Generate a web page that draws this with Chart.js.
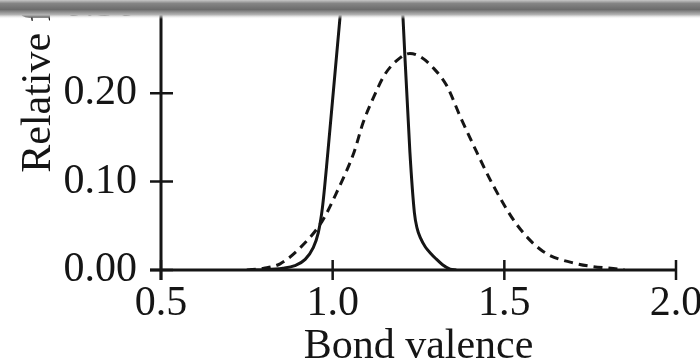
<!DOCTYPE html>
<html><head><meta charset="utf-8">
<script src="https://cdn.jsdelivr.net/npm/chart.js@4"></script>
<style>
html,body{margin:0;padding:0;width:700px;height:363px;overflow:hidden;background:#fff}
#wrap{position:absolute;left:0;top:-292px;width:740px;height:664px}
</style></head><body><div id="wrap"><canvas id="c"></canvas></div>
<script>
// Solid (narrow) distribution
const solidX = [0.76, 0.80, 0.855, 0.89, 0.92, 0.943, 0.958, 0.970, 0.986, 1.021, 1.06, 1.10, 1.14, 1.17, 1.19, 1.205, 1.225, 1.238, 1.246, 1.256, 1.270, 1.285, 1.300, 1.320, 1.342, 1.36];
const solidY = [0.000, 0.0003, 0.002, 0.005, 0.012, 0.025, 0.042, 0.070, 0.133, 0.284, 0.44, 0.53, 0.55, 0.50, 0.40, 0.284, 0.133, 0.065, 0.047, 0.036, 0.026, 0.019, 0.013, 0.006, 0.001, 0.000];
// Dashed (broad) distribution
const dashX = [0.75, 0.80, 0.847, 0.905, 0.969, 1.012, 1.062, 1.089, 1.12, 1.15, 1.19, 1.225, 1.26, 1.292, 1.333, 1.371, 1.420, 1.467, 1.537, 1.613, 1.712, 1.83, 1.85];
const dashY = [0.000, 0.002, 0.007, 0.025, 0.055, 0.088, 0.133, 0.167, 0.196, 0.220, 0.238, 0.245, 0.240, 0.229, 0.208, 0.174, 0.133, 0.096, 0.051, 0.021, 0.007, 0.001, 0.000];
const xTicks = [0.5, 1.0, 1.5, 2.0];
const yTicks = [0.00, 0.10, 0.20, 0.30];
const xTitle = 'Bond valence';
const yTitle = 'Relative frequency';

const toPts = (xs, ys) => xs.map((x, i) => ({x, y: ys[i]}));
const FONT = {family: "'Liberation Serif','Times New Roman',serif", size: 42, lineHeight: 1.2};
const INK = '#151515';

const axesPlugin = {
  id: 'axesPlugin',
  afterDraw(chart) {
    const {ctx, chartArea: a, scales: {x, y}} = chart;
    const y0 = y.getPixelForValue(0), x0 = x.getPixelForValue(xTicks[0]);
    ctx.save();
    ctx.strokeStyle = INK; ctx.lineCap = 'butt';
    ctx.lineWidth = 3;
    ctx.beginPath();
    ctx.moveTo(x0, a.top); ctx.lineTo(x0, y0 + 10);
    ctx.moveTo(x0 - 11, y0); ctx.lineTo(x.getPixelForValue(xTicks[xTicks.length - 1]), y0);
    ctx.stroke();
    ctx.lineWidth = 2.5;
    ctx.beginPath();
    xTicks.forEach(v => { const p = x.getPixelForValue(v); ctx.moveTo(p, y0 - 10); ctx.lineTo(p, y0 + 10); });
    yTicks.forEach(v => { const p = y.getPixelForValue(v); ctx.moveTo(x0 - 11, p); ctx.lineTo(x0 + 12, p); });
    ctx.stroke();
    // torn scan edge at top of the visible picture
    const top = 292;
    const g = ctx.createLinearGradient(0, top, 0, top + 19);
    g.addColorStop(0, '#c8c8c8');
    g.addColorStop(0.18, '#858585');
    g.addColorStop(0.5, '#6c6c6c');
    g.addColorStop(0.78, '#b5b5b5');
    g.addColorStop(1, 'rgba(255,255,255,0)');
    ctx.fillStyle = g;
    ctx.fillRect(0, top, chart.width, 19);
    ctx.restore();
  }
};

new Chart(document.getElementById('c'), {
  type: 'line',
  data: {
    datasets: [
      {data: toPts(solidX, solidY), borderColor: INK, borderWidth: 3, pointRadius: 0, cubicInterpolationMode: 'monotone', fill: false},
      {data: toPts(dashX, dashY), borderColor: INK, borderWidth: 3, borderDash: [9, 6], pointRadius: 0, cubicInterpolationMode: 'monotone', fill: false}
    ]
  },
  options: {
    responsive: true, maintainAspectRatio: false, animation: false,
    layout: {padding: {top: 40, right: 64, bottom: 0, left: 0}},
    plugins: {legend: {display: false}, tooltip: {enabled: false}},
    scales: {
      x: {
        type: 'linear', min: 0.5, max: 2.0,
        afterBuildTicks: s => { s.ticks = xTicks.map(v => ({value: v})); },
        afterFit: s => { s.height = 102; },
        grid: {display: false, drawTicks: false, tickLength: 0},
        border: {display: false},
        ticks: {color: INK, font: FONT, padding: 9, maxRotation: 0, callback: v => v.toFixed(1)},
        title: {display: true, text: xTitle, color: INK, font: FONT, padding: {top: 0, bottom: 0}}
      },
      y: {
        type: 'linear', min: 0, max: 0.58,
        afterBuildTicks: s => { s.ticks = yTicks.map(v => ({value: v})); },
        afterFit: s => { s.width = 161; },
        grid: {display: false, drawTicks: false, tickLength: 0},
        border: {display: false},
        ticks: {color: INK, font: FONT, padding: 24, callback: v => v.toFixed(2)},
        title: {display: true, text: yTitle, color: INK, font: FONT, padding: {top: 14, bottom: 0}}
      }
    }
  },
  plugins: [axesPlugin]
});
</script></body></html>
